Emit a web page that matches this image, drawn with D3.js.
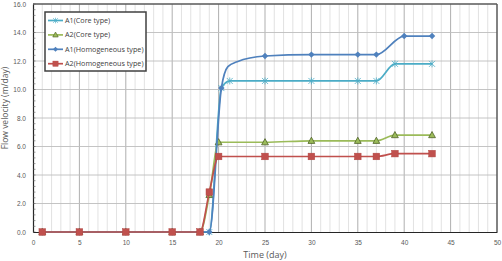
<!DOCTYPE html>
<html>
<head>
<meta charset="utf-8">
<script src="https://cdn.jsdelivr.net/npm/d3@7"></script>
<style>
  body { margin: 0; background: #fff; }
  svg { display: block; font-family: 'Open Sans', sans-serif; }
</style>
</head>
<body>
<svg id="chart" width="502" height="261"></svg>
<script>
// data
const days = [1, 5, 10, 15, 18, 19, 20, 25, 30, 35, 37, 39, 43]
const a2Core = [0, 0, 0, 0, 0, 2.6, 6.3, 6.3, 6.4, 6.4, 6.4, 6.8, 6.8]
const a2Homo = [0, 0, 0, 0, 0, 2.8, 5.3, 5.3, 5.3, 5.3, 5.3, 5.5, 5.5]
const a1CoreDays = [1, 5, 10, 15, 18, 19, 20.3, 21.2, 25, 30, 35, 37, 39, 43]
const a1Core = [0, 0, 0, 0, 0, 0, 10.1, 10.6, 10.6, 10.6, 10.6, 10.6, 11.8, 11.8]
const a1HomoDays = [1, 5, 10, 15, 18, 19, 20.3, 21, 22, 25, 30, 35, 37, 40, 43]
const a1Homo = [0, 0, 0, 0, 0, 0, 10.1, 11.6, 11.95, 12.35, 12.45, 12.45, 12.45, 13.75, 13.75]
// days on the A1 homogeneous curve that carry a visible marker
const a1HomoMarkerDays = [1, 5, 10, 15, 18, 19, 20.3, 25, 30, 35, 37, 40, 43]

const seriesNames = ['A1(Core type)', 'A2(Core type)', 'A1(Homogeneous type)', 'A2(Homogeneous type)']
const xTicks = d3.range(0, 51, 5)
const yTicks = d3.range(0, 17, 2)

const margin = { left: 33, top: 4, right: 5, bottom: 29 }
const width = 502 - margin.left - margin.right
const height = 261 - margin.top - margin.bottom

const svg = d3.select('#chart')
const g = svg.append('g')
  .attr('transform', 'translate(' + margin.left + ',' + margin.top + ')')

const x = d3.scaleLinear().domain([0, 50]).range([0, width])
const y = d3.scaleLinear().domain([0, 16]).range([height, 0])

// grid
g.append('g').selectAll('line')
  .data(d3.range(1, 50).filter(d => d % 5 !== 0))
  .join('line')
  .attr('x1', d => x(d)).attr('x2', d => x(d))
  .attr('y1', 0).attr('y2', height)
  .attr('stroke', '#dadada').attr('stroke-width', 0.8)

g.append('g').selectAll('line')
  .data(xTicks.filter(d => d > 0 && d < 50))
  .join('line')
  .attr('x1', d => x(d)).attr('x2', d => x(d))
  .attr('y1', 0).attr('y2', height)
  .attr('stroke', '#a6a6a6').attr('stroke-width', 0.9)

g.append('g').selectAll('line')
  .data(yTicks.filter(d => d > 0 && d < 16))
  .join('line')
  .attr('x1', 0).attr('x2', width)
  .attr('y1', d => y(d)).attr('y2', d => y(d))
  .attr('stroke', '#bdbdbd').attr('stroke-width', 0.9)

// frame
g.append('line').attr('x1', 0).attr('x2', width).attr('y1', 0).attr('y2', 0)
  .attr('stroke', '#595959').attr('stroke-width', 1.5)
g.append('line').attr('x1', width).attr('x2', width).attr('y1', 0).attr('y2', height)
  .attr('stroke', '#595959').attr('stroke-width', 1.5)

// axes
const yAxis = g.append('g')
  .call(d3.axisLeft(y).tickValues(yTicks).tickFormat(d3.format('.1f')).tickSize(0).tickPadding(7))
yAxis.select('.domain').attr('stroke', '#262626').attr('stroke-width', 1.2)
yAxis.selectAll('text').attr('fill', '#595959').attr('font-size', 6.5)

// small inner ticks on y axis
g.append('g').selectAll('line')
  .data(d3.range(0, 16.01, 0.4))
  .join('line')
  .attr('x1', 0).attr('x2', 2.5)
  .attr('y1', d => y(d)).attr('y2', d => y(d))
  .attr('stroke', '#595959').attr('stroke-width', 0.6)

const xAxis = g.append('g')
  .attr('transform', 'translate(0,' + height + ')')
  .call(d3.axisBottom(x).tickValues(xTicks).tickSize(0).tickPadding(8))
xAxis.select('.domain').attr('stroke', '#262626').attr('stroke-width', 1.2)
xAxis.selectAll('text').attr('fill', '#595959').attr('font-size', 6.5)

// axis titles
svg.append('text')
  .text('Time (day)')
  .attr('x', margin.left + width / 2).attr('y', 258)
  .attr('text-anchor', 'middle')
  .attr('fill', '#595959').attr('font-size', 9)

svg.append('text')
  .text('Flow velocity (m/day)')
  .attr('transform', 'translate(8,108) rotate(-90)')
  .attr('text-anchor', 'middle')
  .attr('fill', '#595959').attr('font-size', 8.5)

// series
const line = d3.line()
  .x(d => x(d[0])).y(d => y(d[1]))
  .curve(d3.curveMonotoneX)

const series = [
  { name: seriesNames[0], pts: d3.zip(a1CoreDays, a1Core), color: '#4bacc6', marker: 'star' },
  { name: seriesNames[1], pts: d3.zip(days, a2Core), color: '#9bbb59', marker: 'triangle' },
  { name: seriesNames[2], pts: d3.zip(a1HomoDays, a1Homo), color: '#4f81bd', marker: 'diamond', marked: a1HomoMarkerDays },
  { name: seriesNames[3], pts: d3.zip(days, a2Homo), color: '#c0504d', marker: 'square' }
]

function drawMarker (sel, s) {
  if (s.marker === 'square') {
    sel.append('rect').attr('x', -3.3).attr('y', -3.3).attr('width', 6.6).attr('height', 6.6)
      .attr('fill', s.color).attr('stroke', '#b04440').attr('stroke-width', 0.5)
  } else if (s.marker === 'diamond') {
    sel.append('path').attr('d', 'M0,-3.2L3.2,0L0,3.2L-3.2,0Z')
      .attr('fill', s.color)
  } else if (s.marker === 'triangle') {
    sel.append('path').attr('d', 'M0,-3.6L3.4,2.6L-3.4,2.6Z')
      .attr('fill', '#9bbb59').attr('stroke', '#4f6228').attr('stroke-width', 0.8)
  } else {
    sel.append('path').attr('d', 'M-3,-3L3,3M-3,3L3,-3M0,-3.5L0,3.5')
      .attr('stroke', '#4bacc6').attr('stroke-width', 0.8).attr('fill', 'none')
  }
}

series.forEach(s => {
  const sg = g.append('g')
  sg.append('path')
    .attr('d', line(s.pts))
    .attr('fill', 'none')
    .attr('stroke', s.color)
    .attr('stroke-width', 1.7)
  const pts = s.marked ? s.pts.filter(d => s.marked.includes(d[0])) : s.pts
  sg.selectAll('g.m')
    .data(pts)
    .join('g')
    .attr('class', 'm')
    .attr('transform', d => 'translate(' + x(d[0]) + ',' + y(d[1]) + ')')
    .each(function () { drawMarker(d3.select(this), s) })
})

// legend
const lg = svg.append('g').attr('transform', 'translate(45,12)')
lg.append('rect')
  .attr('width', 101).attr('height', 59)
  .attr('fill', '#fff').attr('stroke', '#404040').attr('stroke-width', 1.5)

series.forEach((s, i) => {
  const row = lg.append('g').attr('transform', 'translate(0,' + (8.5 + i * 14.4) + ')')
  row.append('line').attr('x1', 3).attr('x2', 18).attr('y1', 0).attr('y2', 0)
    .attr('stroke', s.color).attr('stroke-width', 1.7)
  const m = row.append('g').attr('transform', 'translate(10.5,0) scale(0.8)')
  drawMarker(m, s)
  row.append('text')
    .text(s.name)
    .attr('x', 20).attr('y', 2.5)
    .attr('fill', '#404040').attr('font-size', 7.2)
})
</script>
</body>
</html>
